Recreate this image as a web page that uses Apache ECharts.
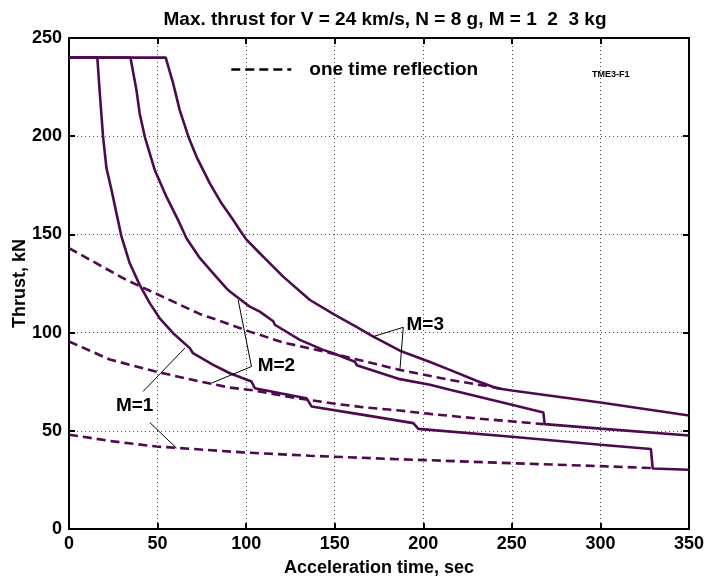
<!DOCTYPE html>
<html>
<head>
<meta charset="utf-8">
<script src="https://cdn.jsdelivr.net/npm/echarts@6/dist/echarts.min.js"></script>
<style>html,body{margin:0;padding:0;background:#fff;}#c{width:707px;height:581px;}</style>
</head>
<body>
<div id="c"></div>
<script>
// ---- data ----
const titleText = 'Max. thrust for V = 24 km/s, N = 8 g, M = 1  2  3 kg';
const xTicks = { min: 0, max: 350, interval: 50 };
const yTicks = { min: 0, max: 250, interval: 50 };

const m1Solid = [[0,240],[16,240],[17.3,223],[19.2,200],[21.1,184],[24,172.6],[26.8,160.7],[29.6,149],[34.3,135.3],[39.9,124.3],[45.6,115],[51.2,107.3],[58.8,99.7],[68.2,92.1],[70,89.5],[81.4,83.6],[90.8,79.3],[103,75.1],[104.9,71.7],[120,69],[134.1,66.6],[136.9,62.4],[166.1,58.1],[194.4,53.9],[197.2,51],[250,47],[300,42.9],[328.5,40.7],[329.5,30.8],[350,30.2]];
const m2Solid = [[0,240],[34.7,240],[38.1,223.4],[39.9,211.6],[42.8,199.7],[48.4,182.8],[55,169.2],[61.6,157.3],[66.3,148],[73.8,138],[81.4,130.2],[88.9,122.5],[90.8,120.9],[102.1,113.2],[107.7,110.7],[115.3,105.8],[116.2,104],[130.3,96.3],[143.5,91.2],[149.2,89.5],[161.4,85.2],[162.4,83.4],[186.8,76.3],[203.8,73.4],[215,70.9],[250,63.3],[267.8,59.3],[268.5,53.4],[300,51.1],[350,47.6]];
const m3Solid = [[0,240],[54.6,240],[58.8,226.9],[62.5,213.3],[67.5,199.5],[72,189.5],[79.5,176],[86.1,165.8],[92.7,157.3],[96.4,152.2],[100.2,147.3],[107.7,140.4],[109.6,138.7],[120.9,128.5],[136,116.6],[150.1,109],[162,103],[171.8,98],[186.8,90.8],[203.8,85],[215,81],[230,75.5],[241.5,71.7],[250,70.5],[300,64.4],[350,57.8]];

const m1Dashed = [[0,48],[25,44.6],[49.4,42],[98.3,39],[136,37.3],[147.3,36.9],[186.8,35.5],[203.8,35],[250,33.5],[300,32],[330,31]];
const m2Dashed = [[0,95.5],[23,86.3],[51.2,79.7],[73.8,75.1],[90.8,72],[104,70.6],[128.5,66.6],[150,63.8],[166,62],[186.8,60.3],[203.8,58.6],[230,56.3],[268,53.4]];
const m3Dashed = [[0,143],[32.4,126.8],[60.7,115],[73.8,109.5],[88.9,104.8],[102,100.5],[120.9,95],[149,89.3],[186.8,81],[215,75.9],[237.7,72.5],[244,71.5]];

const pointer3 = [[171.8,98],[188.7,102.7],[186.8,81]];
const pointer2 = [[95.5,116.6],[103,82.7],[80.5,74.3]];
const pointer1a = [[41.8,70],[65.4,92.1]];
const pointer1b = [[45.6,54.2],[60.7,41.2]];
const curveLabels = [
  { name: 'M=3', value: [190.5, 104] },
  { name: 'M=2', value: [106.5, 83] },
  { name: 'M=1', value: [26.5, 63] }
];
const legendName = 'one time reflection';
const tagText = 'TME3-F1';

// ---- chart ----
const purple = '#4e0a4e';
const font = 'Liberation Sans, Arial, Helvetica, sans-serif';
const chart = echarts.init(document.getElementById('c'), null, { renderer: 'canvas' });

function solid(data) {
  return { type: 'line', data: data, symbol: 'none', silent: true, z: 3,
    lineStyle: { color: purple, width: 2.6 }, itemStyle: { color: purple } };
}
function dashed(data) {
  return { type: 'line', name: legendName, data: data, symbol: 'none', silent: true, z: 3,
    lineStyle: { color: purple, width: 2.6, type: [9, 5] }, itemStyle: { color: purple } };
}
function pointer(data) {
  return { type: 'line', data: data, symbol: 'none', silent: true, z: 4,
    lineStyle: { color: '#000', width: 1 } };
}

const axisCommon = {
  type: 'value',
  axisLine: { show: true, onZero: false, lineStyle: { color: '#000', width: 2 } },
  axisTick: { show: true, inside: true, length: 6, lineStyle: { color: '#000', width: 2 } }
};
const labelStyle = { color: '#000', fontWeight: 'bold', fontSize: 18, fontFamily: font };

chart.setOption({
  animation: false,
  backgroundColor: '#fff',
  title: {
    text: titleText, left: 380, top: 5, textAlign: 'center',
    textStyle: { color: '#000', fontWeight: 'bold', fontSize: 19, fontFamily: font }
  },
  grid: { left: 69, right: 18, top: 38, bottom: 52, containLabel: false, outerBoundsMode: 'none' },
  legend: {
    left: 230, top: 60, itemWidth: 60, itemHeight: 14, padding: 0,
    data: [{ name: legendName, lineStyle: { color: '#000', width: 2.6, type: [9, 5] }, itemStyle: { color: '#000', opacity: 0 } }],
    formatter: function (n) { return '{t|' + n + '}'; },
    textStyle: { color: '#000', fontWeight: 'bold', fontSize: 19, fontFamily: font,
      rich: { t: { color: '#000', fontWeight: 'bold', fontSize: 19, fontFamily: font, padding: [0, 0, 0, 13] } } },
    selectedMode: false
  },
  xAxis: [
    Object.assign({}, axisCommon, {
      min: xTicks.min, max: xTicks.max, interval: xTicks.interval, position: 'bottom',
      axisLabel: Object.assign({ margin: 6 }, labelStyle),
      splitLine: { show: true, lineStyle: { type: [1, 3], color: '#555', width: 1 } },
      name: 'Acceleration time, sec', nameLocation: 'middle', nameGap: 30, nameMoveOverlap: false,
      nameTextStyle: { color: '#000', fontWeight: 'bold', fontSize: 18, fontFamily: font }
    }),
    Object.assign({}, axisCommon, {
      min: xTicks.min, max: xTicks.max, interval: xTicks.interval, position: 'top',
      axisLabel: { show: false }, splitLine: { show: false }
    })
  ],
  yAxis: [
    Object.assign({}, axisCommon, {
      min: yTicks.min, max: yTicks.max, interval: yTicks.interval, position: 'left',
      axisLabel: Object.assign({ margin: 7 }, labelStyle),
      splitLine: { show: true, lineStyle: { type: [1, 3], color: '#555', width: 1 } },
      name: 'Thrust, kN', nameLocation: 'middle', nameGap: 40, nameRotate: 90, nameMoveOverlap: false,
      nameTextStyle: { color: '#000', fontWeight: 'bold', fontSize: 18, fontFamily: font }
    }),
    Object.assign({}, axisCommon, {
      min: yTicks.min, max: yTicks.max, interval: yTicks.interval, position: 'right',
      axisLabel: { show: false }, splitLine: { show: false }
    })
  ],
  graphic: [{
    type: 'text', left: 592, top: 70,
    style: { text: tagText, fill: '#000', font: 'bold 9px ' + font }
  }],
  series: [
    solid(m1Solid), solid(m2Solid), solid(m3Solid),
    dashed(m1Dashed), dashed(m2Dashed), dashed(m3Dashed),
    pointer(pointer3), pointer(pointer2), pointer(pointer1a), pointer(pointer1b),
    {
      type: 'scatter', data: curveLabels, symbol: 'circle', symbolSize: 0, silent: true, z: 5,
      itemStyle: { color: '#000', opacity: 1 },
      label: { show: true, position: 'right', distance: 0, formatter: '{b}', opacity: 1,
        color: '#000', fontWeight: 'bold', fontSize: 19, fontFamily: font }
    }
  ]
});
</script>
</body>
</html>
